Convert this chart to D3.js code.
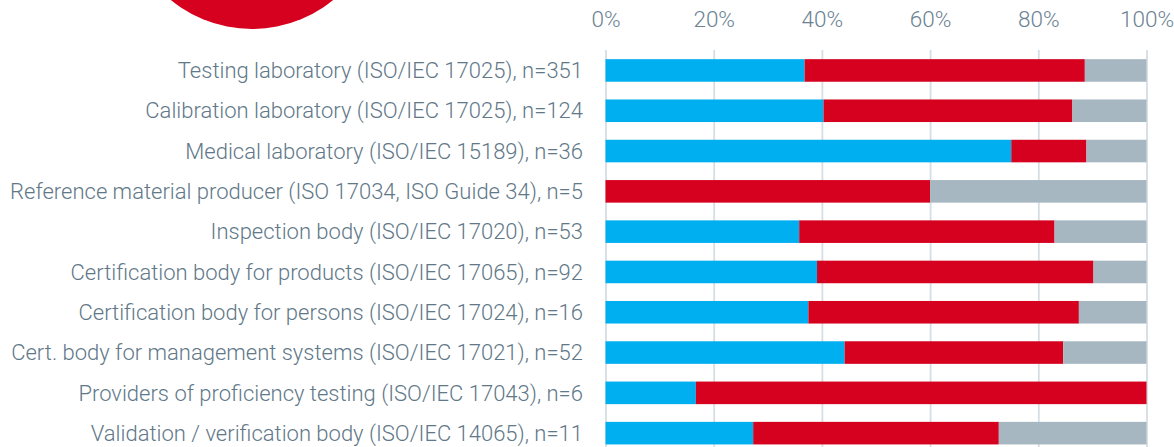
<!DOCTYPE html>
<html>
<head>
<meta charset="utf-8">
<script src="https://cdn.jsdelivr.net/npm/d3@7"></script>
<style>
  body { margin: 0; background: #fff; }
  text { font-family: Roboto, sans-serif; font-weight: 300; }
</style>
</head>
<body>
<div id="viz"></div>
<script>
let categories = [
  'Testing laboratory (ISO/IEC 17025), n=351',
  'Calibration laboratory (ISO/IEC 17025), n=124',
  'Medical laboratory (ISO/IEC 15189), n=36',
  'Reference material producer (ISO 17034, ISO Guide 34), n=5',
  'Inspection body (ISO/IEC 17020), n=53',
  'Certification body for products (ISO/IEC 17065), n=92',
  'Certification body for persons (ISO/IEC 17024), n=16',
  'Cert. body for management systems (ISO/IEC 17021), n=52',
  'Providers of proficiency testing (ISO/IEC 17043), n=6',
  'Validation / verification body (ISO/IEC 14065), n=11'
]

// share of answers per row, in percent
let blueVals = [36.8, 40.3, 75.0, 0, 35.8, 39.1, 37.5, 44.2, 16.7, 27.3]
let redVals = [51.8, 46.0, 13.9, 60.0, 47.2, 51.1, 50.0, 40.4, 83.3, 45.4]
let greyVals = [11.4, 13.7, 11.1, 40.0, 17.0, 9.8, 12.5, 15.4, 0, 27.3]

let tickVals = [0, 20, 40, 60, 80, 100]

let keys = ['blue', 'red', 'grey']
let colors = { blue: '#00afef', red: '#d6001f', grey: '#a6b7c1' }

let rows = categories.map((c, i) => ({
  cat: c, blue: blueVals[i], red: redVals[i], grey: greyVals[i]
}))

let svg = d3.select('#viz')
  .append('svg')
  .attr('width', 1174)
  .attr('height', 447)

// red disc peeking in from the top
svg.append('circle')
  .attr('cx', 252)
  .attr('cy', -99)
  .attr('r', 128)
  .attr('fill', '#d6001f')

let x = d3.scaleLinear().domain([0, 100]).range([605.5, 1146.5])
let y = d3.scaleBand()
  .domain(categories)
  .range([50.3, 453.3])
  .paddingInner(0.44)
  .paddingOuter(0.22)

// gridlines
let grid = svg.append('g')
  .attr('transform', 'translate(0,50)')
  .call(d3.axisTop(x).tickValues(tickVals).tickSize(-420).tickFormat(''))
grid.select('.domain').remove()
grid.selectAll('line').attr('stroke', '#d5dee4').attr('stroke-width', 1.8)

// tick labels on top
let ax = svg.append('g')
  .attr('transform', 'translate(0,27)')
  .call(d3.axisTop(x).tickValues(tickVals).tickSize(0).tickPadding(0).tickFormat(d => d + '%'))
ax.select('.domain').remove()
ax.selectAll('text')
  .attr('fill', '#6b8292')
  .style('font-size', '22.5px')
  .style('font-family', 'Roboto, sans-serif')
  .style('font-weight', 300)

let stacked = d3.stack().keys(keys)(rows)

svg.append('g')
  .selectAll('g')
  .data(stacked)
  .join('g')
  .attr('fill', d => colors[d.key])
  .selectAll('rect')
  .data(d => d)
  .join('rect')
  .attr('x', d => x(d[0]))
  .attr('y', d => y(d.data.cat))
  .attr('width', d => x(d[1]) - x(d[0]))
  .attr('height', y.bandwidth())

// category labels
svg.append('g')
  .selectAll('text')
  .data(categories)
  .join('text')
  .attr('x', 583)
  .attr('y', d => y(d) + y.bandwidth() / 2)
  .attr('dy', '0.35em')
  .attr('text-anchor', 'end')
  .attr('fill', '#617888')
  .style('font-size', '22px')
  .text(d => d)
</script>
</body>
</html>
